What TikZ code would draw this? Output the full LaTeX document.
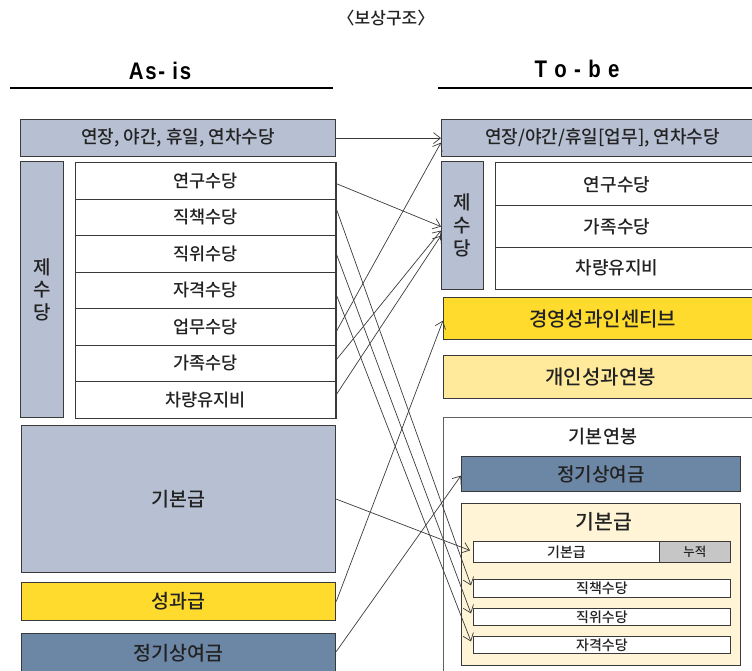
\documentclass[tikz,border=0pt]{standalone}
\usepackage{fontspec}
\setmainfont{Noto Sans CJK KR Medium}
\newfontfamily\headfont[FakeStretch=0.85,LetterSpace=7]{Liberation Sans}
\usetikzlibrary{arrows.meta}
\definecolor{bgrey}{HTML}{B7C0D3}
\definecolor{gold}{HTML}{FFDB2E}
\definecolor{lyel}{HTML}{FFEA9C}
\definecolor{steel}{HTML}{6C86A6}
\definecolor{cream}{HTML}{FFF4D6}
\definecolor{lgrey}{HTML}{C6C6C6}
\definecolor{bord}{HTML}{3A3A3A}
\definecolor{txt}{HTML}{222222}
\begin{document}
\begin{tikzpicture}[x=1pt,y=-1pt,
  box/.style={draw=bord, line width=1.2pt, inner sep=0pt, anchor=north west, text=txt,
              font=\fontsize{18}{21}\selectfont},
  rowbox/.style={draw=bord, line width=0.8pt, inner sep=0pt, anchor=north west, text=txt,
              fill=white, minimum width=260pt, font=\fontsize{17.5}{20}\selectfont},
  small/.style={draw=bord, line width=0.9pt, inner sep=0pt, anchor=north west, text=txt,
              fill=white, font=\fontsize{14}{16}\selectfont},
  lbl/.style={text=txt, inner sep=0pt, font=\fontsize{17.5}{20}\selectfont},
  head/.style={inner sep=0pt, font=\headfont\bfseries\fontsize{24}{26}\selectfont},
  conn/.style={draw=bord, line width=0.7pt, -{Straight Barb[length=7pt,width=11pt]}}
]
\useasboundingbox (0,0) rectangle (752,671);
\clip (0,0) rectangle (752,671);

% title and headings
\node[lbl, font=\fontsize{17}{20}\selectfont] (title) at (386,18) {〈보상구조〉};
\node[head] (asis) at (160,71) {As- is};
\node[head] (tobe) at (577,69) {T o - b e};
\draw[line width=1.8pt] (10,88) -- (333,88);
\draw[line width=1.8pt] (438,88) -- (760,88);

% ---------------- left (As-is)
\node[box, fill=bgrey, minimum width=315pt, minimum height=37pt] (L0) at (20,119) {연장, 야간, 휴일, 연차수당};
\node[box, fill=bgrey, minimum width=43pt, minimum height=256pt, align=center,
      font=\fontsize{19}{22.5}\selectfont] (LV) at (20,161) {제\\수\\당};
\node[rowbox, minimum height=37pt] (L1) at (75,162) {연구수당};
\node[rowbox, minimum height=36pt] (L2) at (75,199) {직책수당};
\node[rowbox, minimum height=37pt] (L3) at (75,235) {직위수당};
\node[rowbox, minimum height=36pt] (L4) at (75,272) {자격수당};
\node[rowbox, minimum height=37pt] (L5) at (75,308) {업무수당};
\node[rowbox, minimum height=36pt] (L6) at (75,345) {가족수당};
\node[rowbox, minimum height=37pt] (L7) at (75,381) {차량유지비};
\draw[draw=bord, line width=1.8pt] (L1.north east) -- (L7.south east);
\node[box, fill=bgrey, minimum width=314pt, minimum height=147pt, font=\fontsize{19.5}{22}\selectfont] (LB) at (21,425) {기본급};
\node[box, fill=gold, minimum width=314pt, minimum height=38pt, font=\fontsize{19.5}{22}\selectfont] (LP) at (21,582) {성과급};
\node[box, fill=steel, minimum width=314pt, minimum height=40pt, font=\fontsize{19.5}{22}\selectfont] (LS) at (21,633) {정기상여금};

% ---------------- right (To-be)
\node[box, fill=bgrey, minimum width=322pt, minimum height=37pt] (R0) at (441,119) {연장/야간/휴일[업무], 연차수당};
\node[box, fill=bgrey, minimum width=42pt, minimum height=128pt, align=center,
      font=\fontsize{19}{23}\selectfont] (RV) at (441,161) {제\\수\\당};
\draw[draw=bord, line width=0.8pt] (495,162) -- (760,162) (495,205) -- (760,205)
      (495,247) -- (760,247) (495,289) -- (760,289) (495,162) -- (495,289);
\node[lbl, font=\fontsize{18}{21}\selectfont] (R1) at (617,185) {연구수당};
\node[lbl, font=\fontsize{18}{21}\selectfont] (R2) at (617,227) {가족수당};
\node[lbl, font=\fontsize{18}{21}\selectfont] (R3) at (617,268) {차량유지비};
\node[box, fill=gold, minimum width=318pt, minimum height=42pt, font=\fontsize{20}{23}\selectfont] (RI) at (443,297) {경영성과인센티브};
\node[box, fill=lyel, minimum width=314pt, minimum height=43pt, font=\fontsize{20}{23}\selectfont] (RP) at (443,355) {개인성과연봉};
\node[box, draw=bord!80, fill=white, minimum width=321pt, minimum height=280pt] (RO) at (443,417) {};
\node[lbl, font=\fontsize{18.5}{21}\selectfont] (ROt) at (603,437) {기본연봉};
\node[box, fill=steel, minimum width=279pt, minimum height=35pt, font=\fontsize{19}{22}\selectfont] (RS) at (461,456) {정기상여금};
\node[box, fill=cream, minimum width=279pt, minimum height=162pt] (RBB) at (461,503) {};
\node[lbl, font=\fontsize{20.5}{23}\selectfont] (RBt) at (604,522) {기본급};
\node[small, minimum width=186pt, minimum height=21pt] (RB1) at (473,541) {기본급};
\node[small, fill=lgrey, minimum width=71pt, minimum height=21pt, font=\fontsize{12.5}{14}\selectfont] (RB2) at (659,541) {누적};
\node[small, minimum width=257pt, minimum height=18pt] (RC) at (473,579) {직책수당};
\node[small, minimum width=257pt, minimum height=17pt] (RW) at (473,608) {직위수당};
\node[small, minimum width=257pt, minimum height=17pt] (RQ) at (473,636) {자격수당};

% ---------------- connectors
\draw[conn] (L0.east) -- (R0.west);
\draw[conn] ([yshift=-2.5pt]L1.east) -- ([yshift=-1pt]RV.west);
\draw[conn] ([yshift=10pt]L2.east) -- ([xshift=-2pt,yshift=3pt]RC.west);
\draw[conn] ([yshift=1.5pt]L3.east) -- ([xshift=-2pt,yshift=3.5pt]RW.west);
\draw[conn] ([yshift=-3pt]L4.east) -- ([xshift=-2pt,yshift=3.5pt]RQ.west);
\draw[conn] ([yshift=-5.5pt]L5.east) -- ([yshift=-4.5pt]R0.west);
\draw[conn] ([yshift=3pt]L6.east) -- ([yshift=-5pt]RV.west);
\draw[conn] ([yshift=4.5pt]L7.east) -- ([yshift=-10pt]RV.west);
\draw[conn] (LB.east) -- ([xshift=-3pt,yshift=1.5pt]RB1.west);
\draw[conn] (LP.east) -- ([yshift=-2pt]RI.west);
\draw[conn] ([yshift=2pt]LS.east) -- ([yshift=-1.5pt]RS.west);
\end{tikzpicture}
\end{document}
